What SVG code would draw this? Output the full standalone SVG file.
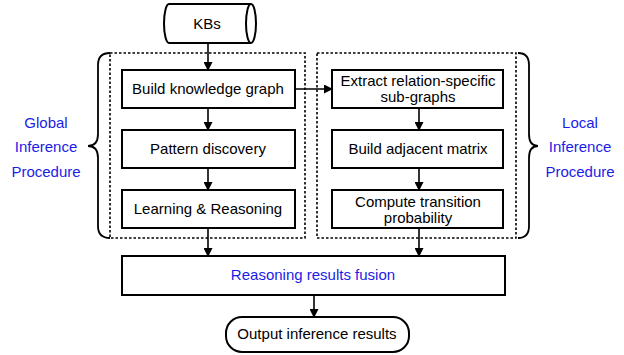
<svg xmlns="http://www.w3.org/2000/svg" width="624" height="355" viewBox="0 0 624 355">
  <style>
    .box { fill: #ffffff; stroke: #000000; stroke-width: 2; }
    .group { fill: none; stroke: #000000; stroke-width: 1.6; stroke-dasharray: 2.5 2; }
    .brace { fill: none; stroke: #000000; stroke-width: 1.8; }
    .edge { fill: none; stroke: #000000; stroke-width: 1.6; }
    text { font-family: "Liberation Sans", Arial, sans-serif; font-size: 15px; fill: #000000; text-anchor: middle; }
    .blue { fill: #1c1ce6; }
  </style>
  <defs>
    <marker id="arrow" markerWidth="9" markerHeight="9" refX="8" refY="4.5" orient="auto" markerUnits="userSpaceOnUse">
      <path d="M0,0 L9,4.5 L0,9 Z" fill="#000000"/>
    </marker>
  </defs>

  <rect width="624" height="355" fill="#ffffff"/>

  <!-- dashed grouping frames and braces -->
  <g id="global-frame">
    <rect class="group" x="110" y="53" width="195" height="185"/>
    <path class="brace" d="M110,53 Q98,53 98,65 L98,134 Q98,146 88,146 Q98,146 98,158 L98,226 Q98,238 110,238"/>
    <text class="blue" x="46" y="128">Global</text>
    <text class="blue" x="46" y="152">Inference</text>
    <text class="blue" x="46" y="177">Procedure</text>
  </g>
  <g id="local-frame">
    <rect class="group" x="317" y="53" width="199" height="185"/>
    <path class="brace" d="M518,53 Q529,53 529,65 L529,134 Q529,146 538,146 Q529,146 529,158 L529,226 Q529,238 518,238"/>
    <text class="blue" x="580" y="128">Local</text>
    <text class="blue" x="580" y="152">Inference</text>
    <text class="blue" x="580" y="177">Procedure</text>
  </g>

  <!-- connectors -->
  <g id="connectors">
    <line class="edge" x1="208" y1="43" x2="208" y2="70" marker-end="url(#arrow)"/>
    <line class="edge" x1="208" y1="108" x2="208" y2="130" marker-end="url(#arrow)"/>
    <line class="edge" x1="208" y1="168" x2="208" y2="190" marker-end="url(#arrow)"/>
    <line class="edge" x1="208" y1="228" x2="208" y2="256" marker-end="url(#arrow)"/>
    <line class="edge" x1="295" y1="89" x2="332" y2="89" marker-end="url(#arrow)"/>
    <line class="edge" x1="419" y1="108" x2="419" y2="130" marker-end="url(#arrow)"/>
    <line class="edge" x1="419" y1="168" x2="419" y2="190" marker-end="url(#arrow)"/>
    <line class="edge" x1="419" y1="228" x2="419" y2="256" marker-end="url(#arrow)"/>
    <line class="edge" x1="314" y1="295" x2="314" y2="317" marker-end="url(#arrow)"/>
  </g>

  <!-- knowledge base store -->
  <g id="kbs">
    <path class="box" d="M169,4 L251,4 A5,19.5 0 0 1 251,43 L169,43 A5,19.5 0 0 1 169,4 Z"/>
    <path class="box" fill="none" d="M251,4 A5,19.5 0 0 0 251,43"/>
    <text x="207" y="29">KBs</text>
  </g>

  <!-- global inference steps -->
  <g id="build-kg">
    <rect class="box" x="122" y="70" width="173" height="38"/>
    <text x="208" y="94">Build knowledge graph</text>
  </g>
  <g id="pattern-discovery">
    <rect class="box" x="122" y="130" width="173" height="38"/>
    <text x="208" y="154">Pattern discovery</text>
  </g>
  <g id="learning-reasoning">
    <rect class="box" x="122" y="190" width="173" height="38"/>
    <text x="208" y="214">Learning &amp; Reasoning</text>
  </g>

  <!-- local inference steps -->
  <g id="extract-subgraphs">
    <rect class="box" x="332" y="70" width="171" height="38"/>
    <text x="418" y="86">Extract relation-specific</text>
    <text x="418" y="102">sub-graphs</text>
  </g>
  <g id="adjacent-matrix">
    <rect class="box" x="332" y="130" width="171" height="38"/>
    <text x="418" y="154">Build adjacent matrix</text>
  </g>
  <g id="transition-probability">
    <rect class="box" x="332" y="190" width="171" height="38"/>
    <text x="418" y="207">Compute transition</text>
    <text x="418" y="223">probability</text>
  </g>

  <!-- fusion and output -->
  <g id="fusion">
    <rect class="box" x="122" y="256" width="383" height="39"/>
    <text class="blue" x="313" y="280">Reasoning results fusion</text>
  </g>
  <g id="output">
    <rect class="box" x="226" y="317" width="183" height="35" rx="16" ry="16"/>
    <text x="317" y="339">Output inference results</text>
  </g>
</svg>
